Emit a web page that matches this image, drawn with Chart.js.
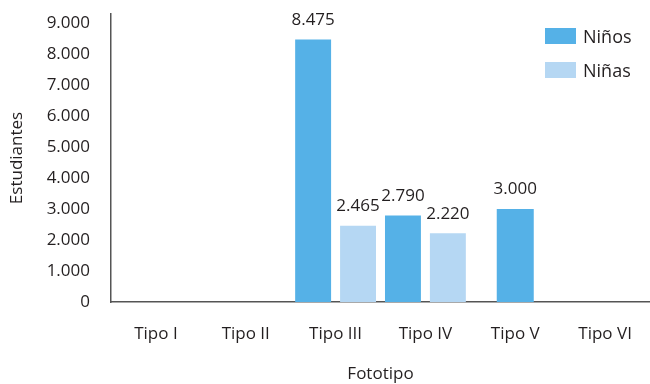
<!DOCTYPE html>
<html>
<head>
<meta charset="utf-8">
<script src="https://cdn.jsdelivr.net/npm/chart.js@4"></script>
<style>
  html, body { margin: 0; padding: 0; background: #fff; }
  #wrap { position: relative; width: 650px; height: 384px; }
  #legend { position: absolute; left: 545px; top: 19px; font-family: "Open Sans", sans-serif; font-size: 18px; color: #231f20; }
  .item { display: flex; align-items: center; height: 34px; }
  .box { width: 31px; height: 16px; margin-right: 7px; }
</style>
</head>
<body>
<div id="wrap">
  <canvas id="c" width="650" height="384"></canvas>
  <div id="legend"></div>
</div>
<script>
const categories = ["Tipo I", "Tipo II", "Tipo III", "Tipo IV", "Tipo V", "Tipo VI"];
const ninos = [null, null, 8475, 2790, 3000, null];
const ninas = [null, null, 2465, 2220, null, null];
const yTicks = [0, 1000, 2000, 3000, 4000, 5000, 6000, 7000, 8000, 9000];
const seriesNames = ["Niños", "Niñas"];
const seriesColors = ["#55b1e7", "#b5d7f3"];

function fmt(v) {
  return String(v).replace(/\B(?=(\d{3})+(?!\d))/g, ".");
}

const FONT = "'Open Sans', sans-serif";
const TEXT = "#231f20";

const labelPlugin = {
  id: "barLabels",
  afterDatasetsDraw(chart) {
    const ctx = chart.ctx;
    ctx.save();
    ctx.font = "17px " + FONT;
    ctx.fillStyle = TEXT;
    ctx.textAlign = "center";
    ctx.textBaseline = "bottom";
    chart.data.datasets.forEach((ds, i) => {
      const meta = chart.getDatasetMeta(i);
      meta.data.forEach((el, j) => {
        const v = ds.data[j];
        if (v === null || v === undefined) return;
        ctx.fillText(fmt(v), el.x, el.y - 11);
      });
    });
    ctx.restore();
  }
};

new Chart(document.getElementById("c"), {
  type: "bar",
  data: {
    labels: categories,
    datasets: [
      { label: seriesNames[0], data: ninos, backgroundColor: seriesColors[0] },
      { label: seriesNames[1], data: ninas, backgroundColor: seriesColors[1] }
    ]
  },
  options: {
    responsive: false,
    animation: false,
    skipNull: true,
    barPercentage: 0.8,
    categoryPercentage: 1.0,
    maxBarThickness: 37,
    layout: { padding: { top: 14, right: 0, left: 0, bottom: 0 } },
    plugins: { legend: { display: false }, tooltip: { enabled: false } },
    scales: {
      x: {
        grid: { display: false, drawTicks: false },
        border: { display: true, color: "#555", width: 1.5 },
        ticks: { color: TEXT, font: { family: FONT, size: 17 }, padding: 22, maxRotation: 0 },
        title: { display: true, text: "Fototipo", color: TEXT, font: { family: FONT, size: 17 }, padding: { top: 0, bottom: 0 } },
        afterFit(scale) { scale.height = 82; scale.paddingLeft = 0; scale.paddingRight = 0; }
      },
      y: {
        min: 0,
        max: 9300,
        grid: { display: false, drawTicks: false },
        border: { display: true, color: "#555", width: 1.5 },
        ticks: { color: TEXT, font: { family: FONT, size: 17 }, padding: 21, callback: (v) => fmt(v) },
        afterBuildTicks(scale) { scale.ticks = yTicks.map(v => ({ value: v })); },
        title: { display: true, text: "Estudiantes", color: TEXT, font: { family: FONT, size: 17 }, padding: { top: 7, bottom: 0 } },
        afterFit(scale) { scale.width = 111; scale.paddingTop = 0; scale.paddingBottom = 0; }
      }
    }
  },
  plugins: [labelPlugin]
});

const legend = document.getElementById("legend");
seriesNames.forEach((n, i) => {
  const it = document.createElement("div");
  it.className = "item";
  const b = document.createElement("div");
  b.className = "box";
  b.style.background = seriesColors[i];
  const t = document.createElement("span");
  t.textContent = n;
  it.appendChild(b); it.appendChild(t);
  legend.appendChild(it);
});
</script>
</body>
</html>
